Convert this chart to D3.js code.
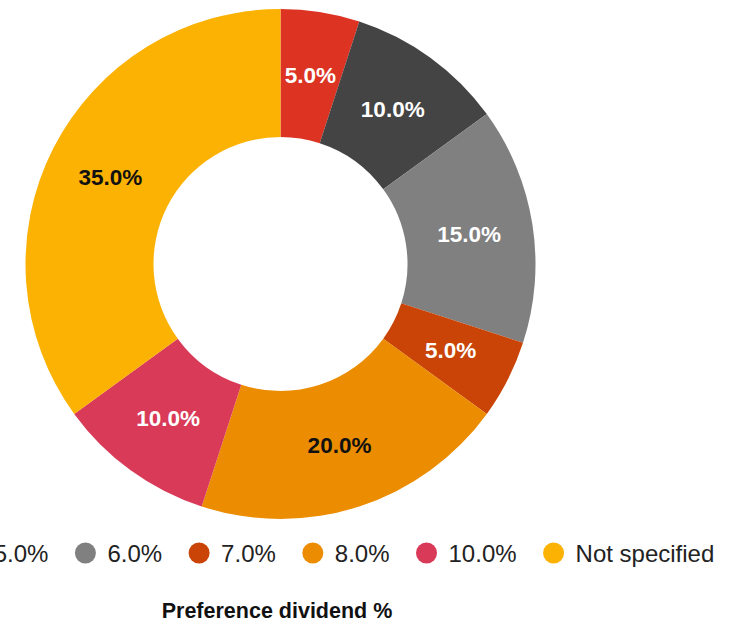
<!DOCTYPE html>
<html>
<head>
<meta charset="utf-8">
<script src="https://cdn.jsdelivr.net/npm/d3@7/dist/d3.min.js"></script>
<style>
  html, body { margin: 0; padding: 0; background: #ffffff; }
  svg { display: block; font-family: "Liberation Sans", Arial, sans-serif; }
</style>
</head>
<body>
<svg id="chart" width="731" height="624"></svg>
<script>
// Preference dividend rate categories and their share of issues
const categories = ["4.0%", "5.0%", "6.0%", "7.0%", "8.0%", "10.0%", "Not specified"];
const shares = [5, 10, 15, 5, 20, 10, 35];
const colors = ["#dc3322", "#444444", "#808080", "#c94406", "#ec8c00", "#d83a58", "#fbb203"];
const labelColors = ["#ffffff", "#ffffff", "#ffffff", "#ffffff", "#111111", "#ffffff", "#111111"];
const title = "Preference dividend %";

const svg = d3.select("#chart");
const cx = 280.5, cy = 264, outerR = 255, innerR = 127;

const data = categories.map((c, i) => ({ category: c, value: shares[i], color: colors[i], text: labelColors[i] }));
const total = d3.sum(shares);

const pie = d3.pie().value(d => d.value).sort(null);
const arc = d3.arc().innerRadius(innerR).outerRadius(outerR);
const arcs = pie(data);

const g = svg.append("g").attr("transform", `translate(${cx},${cy})`);

g.selectAll("path.slice")
  .data(arcs)
  .join("path")
  .attr("class", "slice")
  .attr("d", arc)
  .attr("fill", d => d.data.color);

const fmt = d3.format(".1f");
g.selectAll("text.pct")
  .data(arcs)
  .join("text")
  .attr("class", "pct")
  .attr("transform", d => `translate(${arc.centroid(d)})`)
  .attr("text-anchor", "middle")
  .attr("dominant-baseline", "central")
  .attr("font-size", 22.5)
  .attr("font-weight", "bold")
  .attr("fill", d => d.data.text)
  .text(d => fmt(d.data.value / total * 100) + "%");

// Legend: one row, items flowed left to right
const legend = svg.append("g").attr("transform", "translate(0,553)");
let x = -142;
data.forEach(d => {
  const item = legend.append("g");
  item.append("circle").attr("cx", x).attr("cy", 0).attr("r", 10.5).attr("fill", d.color);
  const t = item.append("text")
    .attr("x", x + 22)
    .attr("y", 0)
    .attr("dominant-baseline", "central")
    .attr("font-size", 24)
    .attr("fill", "#222222")
    .text(d.category);
  const w = t.node().getComputedTextLength();
  x = x + 22 + w + 37;
});

svg.append("text")
  .attr("x", 277)
  .attr("y", 611)
  .attr("text-anchor", "middle")
  .attr("dominant-baseline", "central")
  .attr("font-size", 21.5)
  .attr("font-weight", "bold")
  .attr("fill", "#111111")
  .text(title);
</script>
</body>
</html>
